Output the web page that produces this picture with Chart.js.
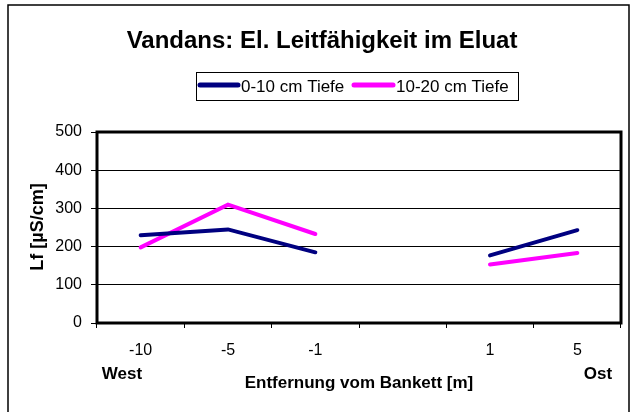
<!DOCTYPE html>
<html>
<head>
<meta charset="utf-8">
<script src="https://cdn.jsdelivr.net/npm/chart.js@4/dist/chart.umd.min.js"></script>
<style>
  html, body { margin: 0; padding: 0; background: #fff; }
  #wrap { width: 635px; height: 412px; }
</style>
</head>
<body>
<div id="wrap"><canvas id="chart"></canvas></div>
<script>
// Daten
const kategorien = ['-10', '-5', '-1', '', '1', '5'];
const tiefe0_10 = [230, 245, 185, null, 177, 243];
const tiefe10_20 = [198, 310, 233, null, 153, 183];
const yTicks = [0, 100, 200, 300, 400, 500];

const FONT = "Arial, 'Liberation Sans', sans-serif";

// Rahmen, Titel, Legende und Achsentitel wie im Excel-Original
const excelDeko = {
    id: 'excelDeko',
    afterDraw(chart) {
        const ctx = chart.ctx;
        const a = chart.chartArea;
        ctx.save();

        // äußerer Rahmen (unten abgeschnitten)
        ctx.strokeStyle = '#000';
        ctx.lineWidth = 1.5;
        ctx.beginPath();
        ctx.moveTo(8, 412);
        ctx.lineTo(8, 5);
        ctx.lineTo(629, 5);
        ctx.lineTo(629, 412);
        ctx.stroke();

        // Diagrammfläche
        ctx.lineWidth = 3;
        ctx.strokeRect(a.left, a.top, a.right - a.left, a.bottom - a.top);

        ctx.fillStyle = '#000';
        ctx.textBaseline = 'middle';

        // Titel
        ctx.font = 'bold 24px ' + FONT;
        ctx.textAlign = 'center';
        ctx.fillText('Vandans: El. Leitfähigkeit im Eluat', 322, 41);

        // Legende
        ctx.lineWidth = 1;
        ctx.strokeRect(196.5, 72.5, 322, 28);
        ctx.font = '17px ' + FONT;
        ctx.textAlign = 'left';
        const items = [{ x: 200, w: 38 }, { x: 354, w: 39 }];
        chart.data.datasets.forEach((ds, i) => {
            const it = items[i];
            ctx.strokeStyle = ds.borderColor;
            ctx.lineWidth = 5;
            ctx.lineCap = 'round';
            ctx.beginPath();
            ctx.moveTo(it.x, 85);
            ctx.lineTo(it.x + it.w, 85);
            ctx.stroke();
            ctx.fillText(ds.label, it.x + it.w + 3, 87);
        });

        // Achsentitel
        ctx.font = 'bold 17px ' + FONT;
        ctx.textAlign = 'center';
        ctx.fillText('Entfernung vom Bankett [m]', (a.left + a.right) / 2, 383);
        ctx.fillText('West', 122, 374);
        ctx.fillText('Ost', 598, 374);

        ctx.font = 'bold 18px ' + FONT;
        ctx.save();
        ctx.translate(38, 227);
        ctx.rotate(-Math.PI / 2);
        ctx.fillText('Lf [µS/cm]', 0, 0);
        ctx.restore();

        ctx.restore();
    }
};

new Chart(document.getElementById('chart'), {
    type: 'line',
    data: {
        labels: kategorien,
        datasets: [{
            label: '0-10 cm Tiefe',
            data: tiefe0_10,
            borderColor: '#000080',
            borderWidth: 4,
            borderCapStyle: 'round',
            pointRadius: 0,
            spanGaps: false,
            tension: 0
        }, {
            label: '10-20 cm Tiefe',
            data: tiefe10_20,
            borderColor: '#FF00FF',
            borderWidth: 4,
            borderCapStyle: 'round',
            pointRadius: 0,
            spanGaps: false,
            tension: 0
        }]
    },
    options: {
        responsive: true,
        maintainAspectRatio: false,
        animation: false,
        layout: { padding: { top: 132, right: 14, left: 0, bottom: 0 } },
        plugins: {
            legend: { display: false },
            title: { display: false },
            tooltip: { enabled: false }
        },
        scales: {
            x: {
                type: 'category',
                offset: true,
                border: { display: false },
                grid: { offset: true, drawOnChartArea: false, color: '#000', tickLength: 5 },
                ticks: { color: '#000', font: { size: 16, family: FONT }, padding: 13, maxRotation: 0, autoSkip: false },
                afterFit: (s) => { s.height = 412 - 323; }
            },
            y: {
                min: 0,
                max: 500,
                border: { display: false },
                grid: { color: '#000', lineWidth: 1, tickLength: 6 },
                ticks: {
                    color: '#000',
                    font: { size: 16, family: FONT },
                    padding: 9,
                    stepSize: 100,
                    callback: (v) => yTicks.includes(v) ? String(v) : ''
                },
                afterFit: (s) => { s.width = 97; }
            }
        }
    },
    plugins: [excelDeko]
});
</script>
</body>
</html>
